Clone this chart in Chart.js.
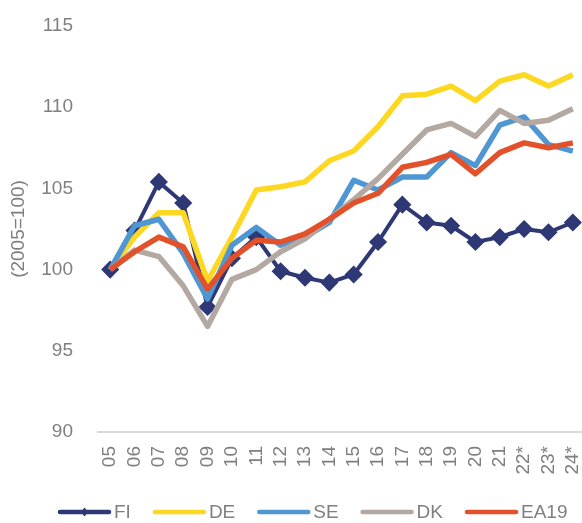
<!DOCTYPE html>
<html>
<head>
<meta charset="utf-8">
<script src="https://cdn.jsdelivr.net/npm/chart.js@4/dist/chart.umd.min.js"></script>
<style>
  html, body { margin: 0; padding: 0; background: #fff; }
</style>
</head>
<body>
<canvas id="chart" width="582" height="523"></canvas>
<script>
const years = ['05', '06', '07', '08', '09', '10', '11', '12', '13', '14', '15', '16', '17', '18', '19', '20', '21', '22*', '23*', '24*']
const fi   = [100, 102.4, 105.4, 104.1, 97.7, 100.7, 102.0, 99.9, 99.5, 99.2, 99.7, 101.7, 104.0, 102.9, 102.7, 101.7, 102.0, 102.5, 102.3, 102.9]
const de   = [100, 102.0, 103.5, 103.5, 99.3, 102.0, 104.9, 105.1, 105.4, 106.7, 107.3, 108.8, 110.7, 110.8, 111.3, 110.4, 111.6, 112.0, 111.3, 112.0]
const se   = [100, 102.7, 103.1, 101.0, 98.2, 101.5, 102.6, 101.5, 102.0, 102.9, 105.5, 104.9, 105.7, 105.7, 107.2, 106.4, 108.9, 109.4, 107.7, 107.3]
const dk   = [100, 101.2, 100.8, 99.0, 96.5, 99.4, 100.0, 101.1, 101.9, 103.1, 104.3, 105.6, 107.1, 108.6, 109.0, 108.2, 109.8, 109.0, 109.2, 109.9]
const ea19 = [100, 101.1, 102.0, 101.4, 98.8, 100.7, 101.8, 101.7, 102.2, 103.1, 104.1, 104.7, 106.3, 106.6, 107.1, 105.9, 107.2, 107.8, 107.5, 107.8]
const yTitle = '(2005=100)'

const grey = '#7f7f7f'
const font = "'Liberation Sans', Arial, sans-serif"

const line = (label, data, color, order, extra) => Object.assign({
  label, data, order,
  borderColor: color, backgroundColor: color,
  borderWidth: 5.5, borderJoinStyle: 'round',
  pointRadius: 0, tension: 0
}, extra || {})

// stretch the plot to the right edge like the original (last category runs off the canvas)
const stretchPlugin = {
  id: 'stretchX',
  afterLayout(chart) {
    const xs = chart.scales.x
    xs.right = 585
    xs.width = xs.right - xs.left
    xs.configure()
    chart.chartArea.right = 585
    chart.chartArea.width = chart.chartArea.right - chart.chartArea.left
  }
}

// legend drawn by hand: long line swatches like the original
const legendPlugin = {
  id: 'lineLegend',
  afterDraw(chart) {
    const ctx = chart.ctx
    const y = 512
    let x = 58
    ctx.save()
    ctx.font = '19px ' + font
    ctx.textBaseline = 'middle'
    chart.data.datasets.forEach(ds => {
      ctx.strokeStyle = ds.borderColor
      ctx.lineWidth = 4.5
      ctx.lineCap = 'round'
      ctx.beginPath()
      ctx.moveTo(x + 2, y)
      ctx.lineTo(x + 51, y)
      ctx.stroke()
      if (ds.pointStyle === 'rectRot') {
        ctx.fillStyle = ds.borderColor
        ctx.beginPath()
        ctx.moveTo(x + 26.5, y - 4.5)
        ctx.lineTo(x + 30, y)
        ctx.lineTo(x + 26.5, y + 4.5)
        ctx.lineTo(x + 23, y)
        ctx.closePath()
        ctx.fill()
      }
      ctx.fillStyle = grey
      ctx.fillText(ds.label, x + 56, y + 1)
      x += 56 + ctx.measureText(ds.label).width + 22
    })
    ctx.restore()
  }
}

new Chart(document.getElementById('chart'), {
  type: 'line',
  data: {
    labels: years,
    datasets: [
      line('FI', fi, '#2e3875', 5, {
        borderWidth: 4, pointStyle: 'rectRot', pointRadius: 8,
        pointBorderWidth: 1.5, pointBackgroundColor: '#2e3875', pointBorderColor: '#2e3875'
      }),
      line('DE', de, '#fdd823', 4),
      line('SE', se, '#4f97d3', 3),
      line('DK', dk, '#b4a9a2', 2),
      line('EA19', ea19, '#e3512a', 1)
    ]
  },
  options: {
    responsive: false,
    animation: false,
    layout: { padding: { top: 26, right: 0, bottom: 46, left: 0 } },
    plugins: { legend: false, tooltip: false },
    scales: {
      x: {
        offset: true,
        grid: { display: false },
        border: { display: true, color: '#d9d9d9', width: 2 },
        ticks: {
          color: grey, font: { family: font, size: 19 },
          minRotation: 90, maxRotation: 90, padding: 6, autoSkip: false
        },
        afterFit(scale) {
          scale.height = 45
          scale.paddingLeft = 0
          scale.paddingRight = 0
        }
      },
      y: {
        min: 90, max: 115,
        grid: { display: false },
        border: { display: false },
        ticks: { stepSize: 5, color: grey, font: { family: font, size: 19 }, padding: 17 },
        title: {
          display: true, text: yTitle, color: grey,
          font: { family: font, size: 19 }, padding: { top: 7, bottom: 0 }
        },
        afterFit(scale) {
          scale.width = 98
          scale.paddingTop = 0
          scale.paddingBottom = 0
        }
      }
    }
  },
  plugins: [stretchPlugin, legendPlugin]
})
</script>
</body>
</html>
